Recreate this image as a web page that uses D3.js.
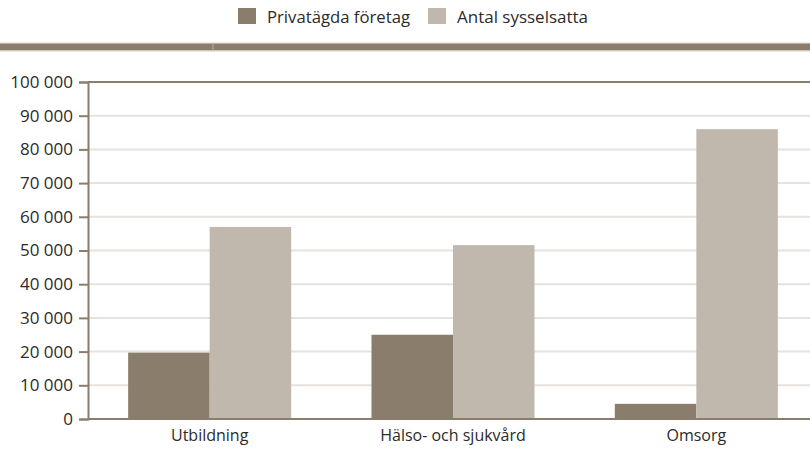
<!DOCTYPE html>
<html>
<head>
<meta charset="utf-8">
<script src="https://cdn.jsdelivr.net/npm/d3@7"></script>
<style>
  body { margin: 0; background: #fff; }
  text { font-family: "Open Sans", "Noto Sans", sans-serif; fill: #2b2b2b; }
</style>
</head>
<body>
<div id="chart"></div>
<script>
// data
const categories = ["Utbildning", "Hälso- och sjukvård", "Omsorg"];
const seriesNames = ["Privatägda företag", "Antal sysselsatta"];
const foretag = [19700, 25000, 4500];
const sysselsatta = [57000, 51600, 86000];
const yTicks = [0, 10000, 20000, 30000, 40000, 50000, 60000, 70000, 80000, 90000, 100000];

const colors = ["#8a7d6c", "#c0b8ad"];
const width = 810, height = 450;

const svg = d3.select('#chart').append('svg')
    .attr('width', width)
    .attr('height', height);

// header band
svg.append('rect').attr('x', 0).attr('y', 42.5).attr('width', width).attr('height', 1).attr('fill', '#ddd8d0');
svg.append('rect').attr('x', 0).attr('y', 43.5).attr('width', width).attr('height', 7).attr('fill', colors[0]);
svg.append('rect').attr('x', 212.5).attr('y', 43.5).attr('width', 1).attr('height', 7).attr('fill', '#b9b0a4');
svg.append('rect').attr('x', 0).attr('y', 50.5).attr('width', width).attr('height', 1).attr('fill', '#d3ccc3');

// scales
const x0 = d3.scaleBand().domain(categories).range([88, 818]).paddingInner(0.33).paddingOuter(0.165);
const x1 = d3.scaleBand().domain(seriesNames).range([0, x0.bandwidth()]);
const y = d3.scaleLinear().domain([0, 100000]).range([419, 82]);

const fmt = d => d3.format(',')(d).replace(/,/g, ' ');

// gridlines
svg.append('g').selectAll('line')
    .data(yTicks.filter(t => t > 0 && t < 100000))
    .enter().append('line')
    .attr('x1', 88).attr('x2', width)
    .attr('y1', d => y(d)).attr('y2', d => y(d))
    .attr('stroke', '#e6e2dc').attr('stroke-width', 2);

// bars
const rows = categories.map((c, i) => ({ cat: c, vals: [foretag[i], sysselsatta[i]] }));
const group = svg.append('g').selectAll('g')
    .data(rows)
    .enter().append('g')
    .attr('transform', d => `translate(${x0(d.cat)},0)`);

group.selectAll('rect')
    .data(d => d.vals.map((v, j) => ({ key: seriesNames[j], v, j })))
    .enter().append('rect')
    .attr('x', d => x1(d.key))
    .attr('y', d => y(d.v))
    .attr('width', x1.bandwidth())
    .attr('height', d => y(0) - y(d.v))
    .attr('fill', d => colors[d.j]);

// top line at 100 000
svg.append('line')
    .attr('x1', 88).attr('x2', width)
    .attr('y1', y(100000)).attr('y2', y(100000))
    .attr('stroke', colors[0]).attr('stroke-width', 2);

// y axis
const yAxis = svg.append('g')
    .attr('transform', 'translate(88,0)')
    .call(d3.axisLeft(y).tickValues(yTicks).tickFormat(fmt).tickSize(9).tickPadding(6));
yAxis.select('.domain').attr('stroke', colors[0]).attr('stroke-width', 2);
yAxis.selectAll('.tick line').attr('stroke', colors[0]).attr('stroke-width', 2);
yAxis.selectAll('.tick text').attr('font-size', 17).attr('font-family', '"Open Sans", sans-serif').attr('fill', '#2b2b2b');

// baseline
svg.append('line')
    .attr('x1', 88).attr('x2', width)
    .attr('y1', y(0)).attr('y2', y(0))
    .attr('stroke', colors[0]).attr('stroke-width', 2);

// x labels
const xAxis = svg.append('g')
    .attr('transform', `translate(0,${y(0)})`)
    .call(d3.axisBottom(x0).tickSize(0).tickPadding(11));
xAxis.select('.domain').remove();
xAxis.selectAll('.tick text').attr('font-size', 16).attr('font-family', '"Open Sans", sans-serif').attr('fill', '#2b2b2b');

// legend
const legendItems = [
  { x: 238, tx: 267, w: 143 },
  { x: 428, tx: 457, w: 131 }
];
seriesNames.forEach((s, i) => {
  const it = legendItems[i];
  svg.append('rect').attr('x', it.x).attr('y', 8).attr('width', 18).attr('height', 16).attr('fill', colors[i]);
  svg.append('text').attr('x', it.tx).attr('y', 22.5).attr('font-size', 17)
      .attr('textLength', it.w).attr('lengthAdjust', 'spacingAndGlyphs').text(s);
});
</script>
</body>
</html>
